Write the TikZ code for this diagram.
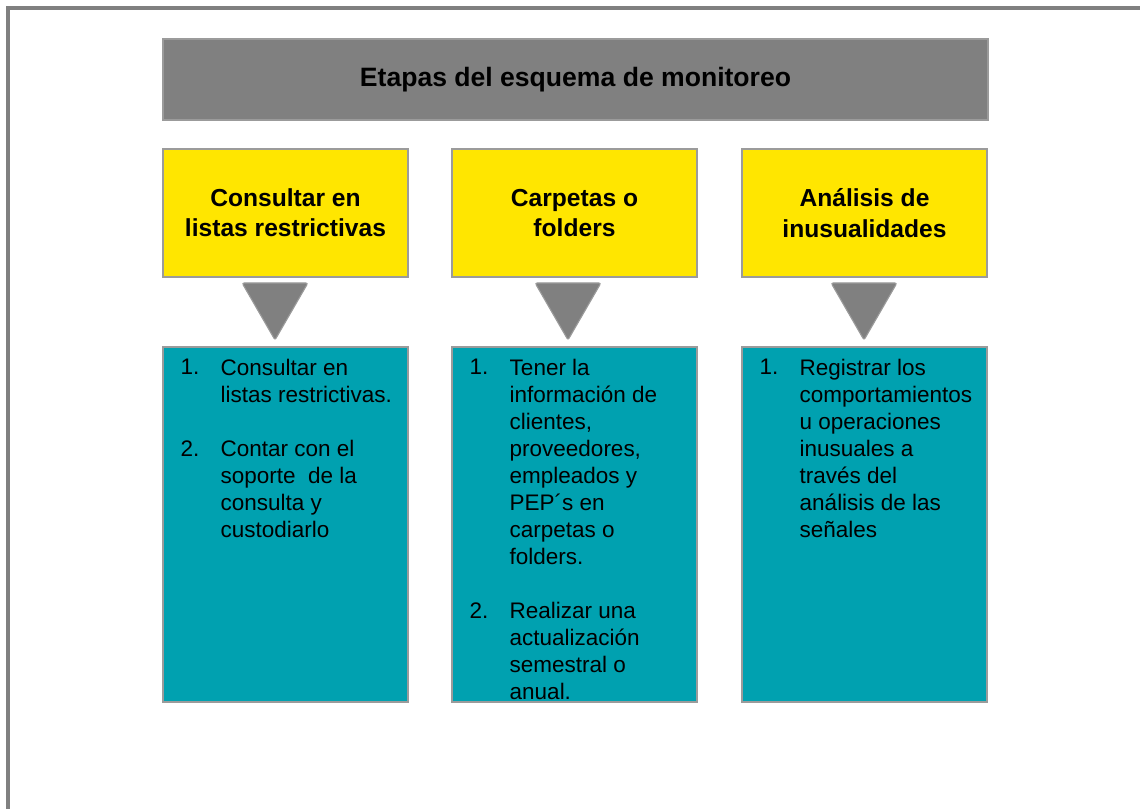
\documentclass[tikz,border=0pt]{standalone}
\usepackage{fontspec}
\setmainfont{Liberation Sans}
\usetikzlibrary{shapes.geometric,positioning,calc}

\definecolor{stagegray}{RGB}{128,128,128}
\definecolor{edgegray}{RGB}{155,155,155}
\definecolor{stageyellow}{RGB}{255,230,0}
\definecolor{stageteal}{RGB}{0,161,176}

\begin{document}
\begin{tikzpicture}[
    headbox/.style={draw=edgegray, line width=0.8pt, fill=stagegray, minimum width=20.625cm, minimum height=2.025cm, font=\fontsize{18.9}{22}\selectfont\bfseries},
    stagebox/.style={draw=edgegray, line width=0.8pt, fill=stageyellow, minimum width=6.125cm, minimum height=3.2cm, align=center, font=\fontsize{17.5}{21.5}\selectfont\bfseries},
    detailbox/.style={draw=edgegray, line width=0.8pt, fill=stageteal, minimum width=6.125cm, minimum height=8.875cm},
    pointer/.style={regular polygon, regular polygon sides=3, shape border rotate=180, draw=edgegray, line width=0.8pt, fill=stagegray, minimum size=1.9cm, inner sep=0pt, rounded corners=1.5pt},
    itemtext/.style={anchor=north west, inner sep=0pt, align=left, font=\fontsize{16}{19.2}\selectfont}
]
    \useasboundingbox (0,0) rectangle (28.5,20.2);
    \draw[stagegray, line width=0.1cm] (0.2,-0.5) |- (29,20);

    \node[headbox] (head) at (14.3875, 18.2125) {Etapas del esquema de monitoreo};

    \node[stagebox] (stage_lists) at (7.1375, 14.875) {Consultar en\\listas restrictivas};
    \node[stagebox] (stage_folders) at (14.3625, 14.875) {Carpetas o\\folders};
    \node[stagebox] (stage_unusual) at (21.6125, 14.875) {Análisis de\\inusualidades};

    \node[pointer] (ptr_lists) at (6.875, 12.65) {};
    \node[pointer] (ptr_folders) at (14.2, 12.65) {};
    \node[pointer] (ptr_unusual) at (21.6, 12.65) {};

    \node[detailbox] (detail_lists) at (7.1375, 7.0875) {};
    \node[detailbox] (detail_folders) at (14.3625, 7.0875) {};
    \node[detailbox] (detail_unusual) at (21.6125, 7.0875) {};

    % first column
    \node[itemtext] (num_lists_a) at ($(detail_lists.north west)+(0.45,-0.32)$) {1.};
    \node[itemtext] (txt_lists_a) at ($(detail_lists.north west)+(1.45,-0.32)$) {Consultar en\\listas restrictivas.};
    \node[itemtext] (num_lists_b) at ($(detail_lists.north west)+(0.45,-2.345)$) {2.};
    \node[itemtext] (txt_lists_b) at ($(detail_lists.north west)+(1.45,-2.345)$) {Contar con el\\soporte\ \ de la\\consulta y\\custodiarlo};

    % second column
    \node[itemtext] (num_folders_a) at ($(detail_folders.north west)+(0.45,-0.32)$) {1.};
    \node[itemtext] (txt_folders_a) at ($(detail_folders.north west)+(1.45,-0.32)$) {Tener la\\información de\\clientes,\\proveedores,\\empleados y\\PEP´s en\\carpetas o\\folders.};
    \node[itemtext] (num_folders_b) at ($(detail_folders.north west)+(0.45,-6.395)$) {2.};
    \node[itemtext] (txt_folders_b) at ($(detail_folders.north west)+(1.45,-6.395)$) {Realizar una\\actualización\\semestral o\\anual.};

    % third column
    \node[itemtext] (num_unusual_a) at ($(detail_unusual.north west)+(0.45,-0.32)$) {1.};
    \node[itemtext] (txt_unusual_a) at ($(detail_unusual.north west)+(1.45,-0.32)$) {Registrar los\\comportamientos\\u operaciones\\inusuales a\\través del\\análisis de las\\señales};
\end{tikzpicture}
\end{document}
